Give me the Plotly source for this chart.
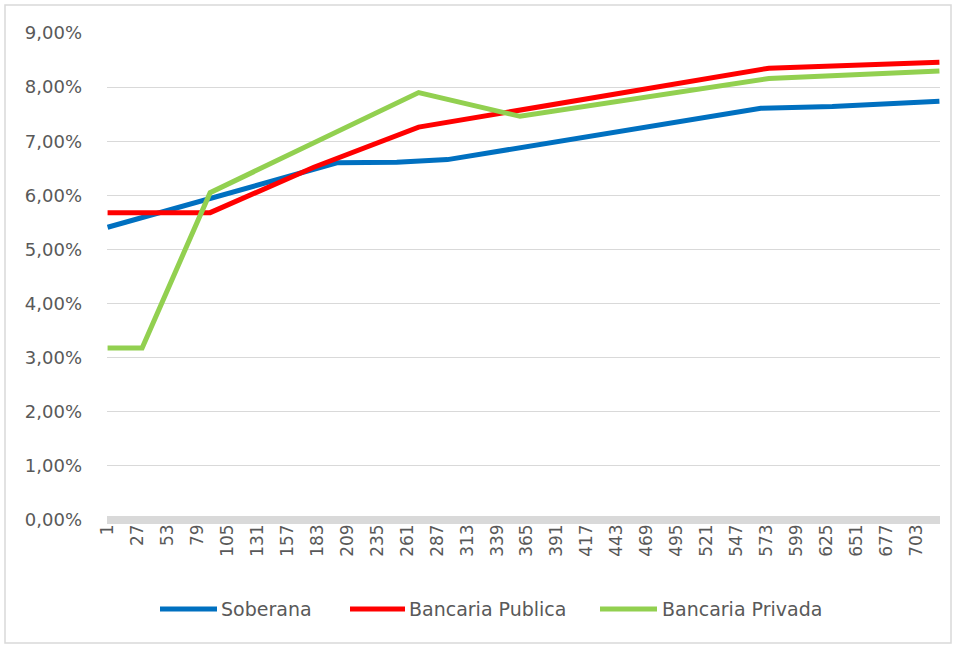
import plotly.graph_objects as go

# Data (days, yields in %)
days_soberana = [1, 200, 252, 296, 568, 630, 723]
soberana = [5.41, 6.60, 6.61, 6.66, 7.61, 7.64, 7.74]

days_publica = [1, 90, 180, 271, 575, 723]
publica = [5.68, 5.68, 6.52, 7.26, 8.35, 8.46]

days_privada = [1, 31, 90, 271, 359, 575, 723]
privada = [3.18, 3.18, 6.05, 7.90, 7.46, 8.16, 8.30]

series_names = ["Soberana", "Bancaria Publica", "Bancaria Privada"]
series_colors = ["#0070C0", "#FF0000", "#92D050"]

tick_days = list(range(1, 704, 26))
y_ticks = list(range(0, 10))
y_ticktext = [f"{v},00%" for v in y_ticks]

font_family = "DejaVu Sans, Verdana, sans-serif"
txt_color = "#595959"

# plot-area geometry (px)
L, R, T, B = 107, 940, 33, 520
PW, PH = R - L, B - T


def px_x(px):
    return (px - L) / PW


def px_y(py):
    return (B - py) / PH


fig = go.Figure()
for xs, ys, nm, col in [(days_soberana, soberana, series_names[0], series_colors[0]),
                        (days_publica, publica, series_names[1], series_colors[1]),
                        (days_privada, privada, series_names[2], series_colors[2])]:
    fig.add_trace(go.Scatter(x=xs, y=ys, mode="lines", name=nm,
                             line=dict(color=col, width=5), showlegend=False))

shapes = [dict(type="rect", xref="paper", yref="paper",
               x0=px_x(5), x1=px_x(951), y0=px_y(643), y1=px_y(5),
               line=dict(color="#d9d9d9", width=1.5), fillcolor="rgba(0,0,0,0)",
               layer="below")]
annotations = []
legend_items = [(160, 217, 219), (350, 405, 407), (600, 657, 660)]
ly = px_y(609)
for (x0, x1, tx), nm, col in zip(legend_items, series_names, series_colors):
    shapes.append(dict(type="line", xref="paper", yref="paper", x0=px_x(x0), x1=px_x(x1),
                       y0=ly, y1=ly, line=dict(color=col, width=5)))
    annotations.append(dict(xref="paper", yref="paper", x=px_x(tx), y=ly, text=nm,
                            showarrow=False, xanchor="left", yanchor="middle",
                            font=dict(family=font_family, size=19, color=txt_color)))

fig.update_layout(
    width=958, height=647,
    margin=dict(l=L, r=958 - R, t=T, b=647 - B),
    paper_bgcolor="white", plot_bgcolor="white",
    font=dict(family=font_family, size=18, color=txt_color),
    showlegend=False,
    xaxis=dict(range=[0.5, 723.5], tickmode="array", tickvals=tick_days,
               ticktext=[str(d) for d in tick_days], tickangle=-90,
               showgrid=False, zeroline=False, showline=False, ticks="",
               tickfont=dict(size=17, color=txt_color)),
    yaxis=dict(range=[0, 9], tickmode="array", tickvals=y_ticks, ticktext=y_ticktext,
               showgrid=True, gridcolor="#d9d9d9",
               gridwidth=1, zeroline=True, zerolinecolor="#d9d9d9", zerolinewidth=8,
               showline=False, ticks="", ticklabelstandoff=24,
               tickfont=dict(size=18, color=txt_color)),
    shapes=shapes,
    annotations=annotations,
)

fig.write_html("out.html", config={"displayModeBar": False},
               post_script="document.body.style.margin='0px';")
